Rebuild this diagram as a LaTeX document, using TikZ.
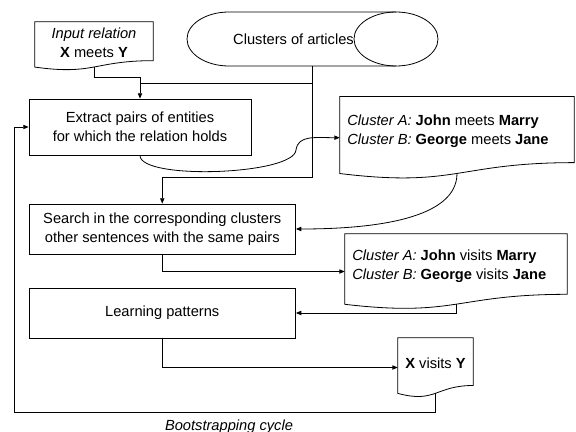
\documentclass[tikz,border=0pt]{standalone}
\usepackage{fontspec}
\setmainfont{Liberation Sans}
\usetikzlibrary{arrows.meta,calc}
\newcommand\docoutline[1]{%
  \draw[outl] (#1.north west) -- (#1.north east)
    -- ($(#1.north east)!0.802!(#1.south east)$)
    .. controls ($(#1.north)!0.802!(#1.south)$) and ($(#1.north)!1.1075!(#1.south)$)
    .. ($(#1.north west)!0.934!(#1.south west)$) -- cycle;}
\begin{document}
\begin{tikzpicture}[x=0.75pt,y=-0.75pt,
  font=\fontsize{11}{14.5}\selectfont,
  outl/.style={draw=black, line width=0.6pt},
  shapebox/.style={draw=none, inner sep=0pt},
  conn/.style={line width=0.6pt},
  arr/.style={conn, -{Triangle[length=4pt,width=3.2pt]}},
  proc/.style={draw=black, line width=0.6pt, inner sep=0pt, align=center},
  txt/.style={inner sep=0pt, align=center},
  ltxt/.style={inner sep=0pt, align=left, anchor=west}]
\useasboundingbox (0,0) rectangle (576,432);

% Input relation document
\node[shapebox, minimum width=88.5pt, minimum height=36pt] (inrel) at (94,46) {};
\docoutline{inrel}
\node[txt] (inreltext) at (94,42.5) {\textit{Input relation}\\\textbf{X} meets \textbf{Y}};

% Clusters of articles (drum)
\node[shapebox, minimum width=188.25pt, minimum height=40.5pt] (drum) at (312.5,39) {};
\draw[outl] (396,12) -- (229,12) .. controls (205.8,12) and (187,24.1) .. (187,39)
  .. controls (187,53.9) and (205.8,66) .. (229,66) -- (396,66);
\draw[outl] (396,39) ellipse [x radius=31.5pt, y radius=20.25pt];
\node[txt] (drumtext) at (293.5,39) {Clusters of articles};

% Process boxes
\node[proc, minimum width=166.5pt, minimum height=42pt] (extract) at (140,127)
  {Extract pairs of entities\\for which the relation holds};
\node[proc, minimum width=199.9pt, minimum height=37.5pt] (search) at (162.25,229)
  {Search in the corresponding clusters\\other sentences with the same pairs};
\node[proc, minimum width=199.9pt, minimum height=37.5pt] (learn) at (162.25,313)
  {Learning patterns};

% Cluster documents
\node[shapebox, minimum width=175.5pt, minimum height=61.5pt] (clA) at (457,137.7) {};
\docoutline{clA}
\node[ltxt] (clAtext) at (347,131)
  {\textit{Cluster A:} \textbf{John} meets \textbf{Marry}\\\textit{Cluster B:} \textbf{George} meets \textbf{Jane}};

\node[shapebox, minimum width=166.5pt, minimum height=56.25pt] (clB) at (456,271.5) {};
\docoutline{clB}
\node[ltxt] (clBtext) at (352,266)
  {\textit{Cluster A:} \textbf{John} visits \textbf{Marry}\\\textit{Cluster B:} \textbf{George} visits \textbf{Jane}};

% X visits Y document
\node[shapebox, minimum width=56.25pt, minimum height=44.25pt] (xvy) at (435.5,367.5) {};
\docoutline{xvy}
\node[txt] (xvytext) at (435.5,362.8) {\textbf{X} visits \textbf{Y}};

\node[txt] (bootlabel) at (229,427) {\textit{Bootstrapping cycle}};

% helper coordinates
\coordinate (inrelB) at ($(inrel.north)!0.933!(inrel.south)$);
\coordinate (clAB) at ($(clA.north)!0.933!(clA.south)$);
\coordinate (clBB) at ($(clB.north)!0.933!(clB.south)$);
\coordinate (xvyB) at ($(xvy.north)!0.933!(xvy.south)$);
\coordinate (fork) at ($(drum.south)+(0,17)$);
\coordinate (bend) at (296,150);
\coordinate (loop) at (14,412);

% connectors
\draw[arr] (inrelB) -- ++(0,10) -| (extract.north);
\draw[arr] (drum.south) -- ++(0,111) -| (search.north);
\draw[conn] (fork) -- (fork -| extract.north);
\draw[arr] (extract.south) .. controls +(0,25) and +(-2,25) .. (bend)
  .. controls +(2,-15) and +(-25,0) .. (clA.west);
\draw[arr] (clAB) .. controls +(0,45) and +(80,0) .. (search.east);
\draw[arr] (search.south) |- (clB.west);
\draw[arr] (clBB) |- (learn.east);
\draw[arr] (learn.south) |- (xvy.west);
\draw[arr] (xvyB) |- (loop) |- (extract.west);
\end{tikzpicture}
\end{document}
